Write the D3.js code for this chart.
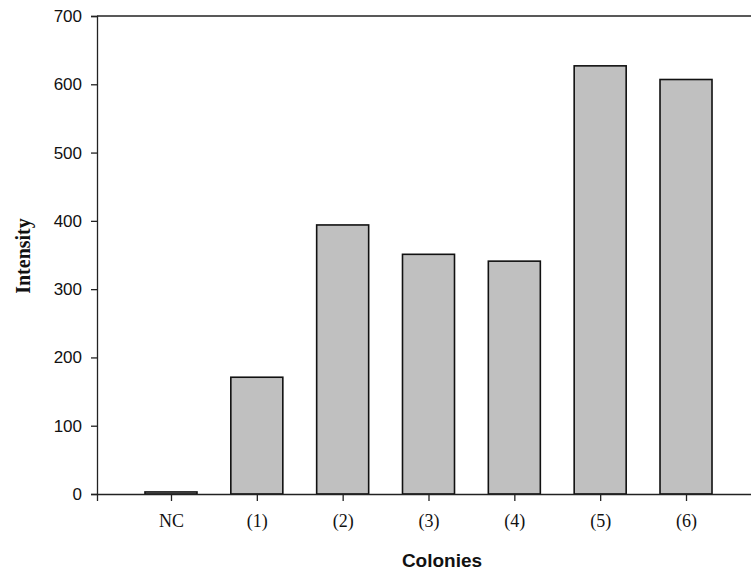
<!DOCTYPE html>
<html>
<head>
<meta charset="utf-8">
<script src="https://cdn.jsdelivr.net/npm/d3@7"></script>
<style>
  html, body { margin: 0; padding: 0; background: #fff; }
  svg { display: block; }
</style>
</head>
<body>
<script>
const categories = ["NC", "(1)", "(2)", "(3)", "(4)", "(5)", "(6)"];
const intensity = [3, 171, 394, 351, 341, 627, 607];
const yTicks = [0, 100, 200, 300, 400, 500, 600, 700];
const xTitle = "Colonies";
const yTitle = "Intensity";

const W = 751, H = 574;
const mLeft = 97, mRight = 760, mTop = 16, mBottom = 494;

const svg = d3.select("body").append("svg").attr("width", W).attr("height", H);

const x = d3.scaleLinear().domain([-0.862, categories.length - 1 + 0.862]).range([mLeft, mRight]);
const y = d3.scaleLinear().domain([0, 700]).range([mBottom, mTop]);
const barW = 52;

// bars
svg.append("g").selectAll("rect").data(intensity).join("rect")
  .attr("x", (d, i) => x(i) - barW / 2)
  .attr("y", d => y(d))
  .attr("width", barW)
  .attr("height", d => y(0) - y(d))
  .attr("fill", "#c0c0c0")
  .attr("stroke", "#111")
  .attr("stroke-width", 1.6);

// frame top line
svg.append("line").attr("x1", mLeft).attr("x2", mRight).attr("y1", mTop).attr("y2", mTop)
  .attr("stroke", "#222").attr("stroke-width", 1.3);

// y axis
const yAxis = svg.append("g").attr("transform", `translate(${mLeft},0)`)
  .call(d3.axisLeft(y).tickValues(yTicks).tickSize(6).tickPadding(9).tickFormat(d3.format("d")));
yAxis.select(".domain").attr("stroke", "#222").attr("stroke-width", 1.3);
yAxis.selectAll(".tick line").attr("stroke", "#222").attr("stroke-width", 1.3);
yAxis.selectAll("text").attr("font-family", "Arial, 'Liberation Sans', sans-serif")
  .attr("font-size", 17).attr("fill", "#111");

// x axis
const xAxis = svg.append("g").attr("transform", `translate(0,${mBottom})`)
  .call(d3.axisBottom(x).tickValues(d3.range(categories.length)).tickSize(7).tickPadding(13)
    .tickFormat(i => categories[i]));
xAxis.select(".domain").attr("stroke", "#222").attr("stroke-width", 1.3);
xAxis.selectAll(".tick line").attr("stroke", "#222").attr("stroke-width", 1.3);
xAxis.selectAll("text").attr("font-family", "'Times New Roman', 'Liberation Serif', serif")
  .attr("font-size", 18).attr("fill", "#111");

// titles
svg.append("text").attr("x", 442).attr("y", 567).attr("text-anchor", "middle")
  .attr("font-family", "Arial, 'Liberation Sans', sans-serif").attr("font-weight", "bold")
  .attr("font-size", 19).attr("fill", "#111").text(xTitle);

svg.append("text").attr("transform", `translate(30,256) rotate(-90)`).attr("text-anchor", "middle")
  .attr("font-family", "'Times New Roman', 'Liberation Serif', serif").attr("font-weight", "bold")
  .attr("font-size", 20).attr("fill", "#111").text(yTitle);
</script>
</body>
</html>
